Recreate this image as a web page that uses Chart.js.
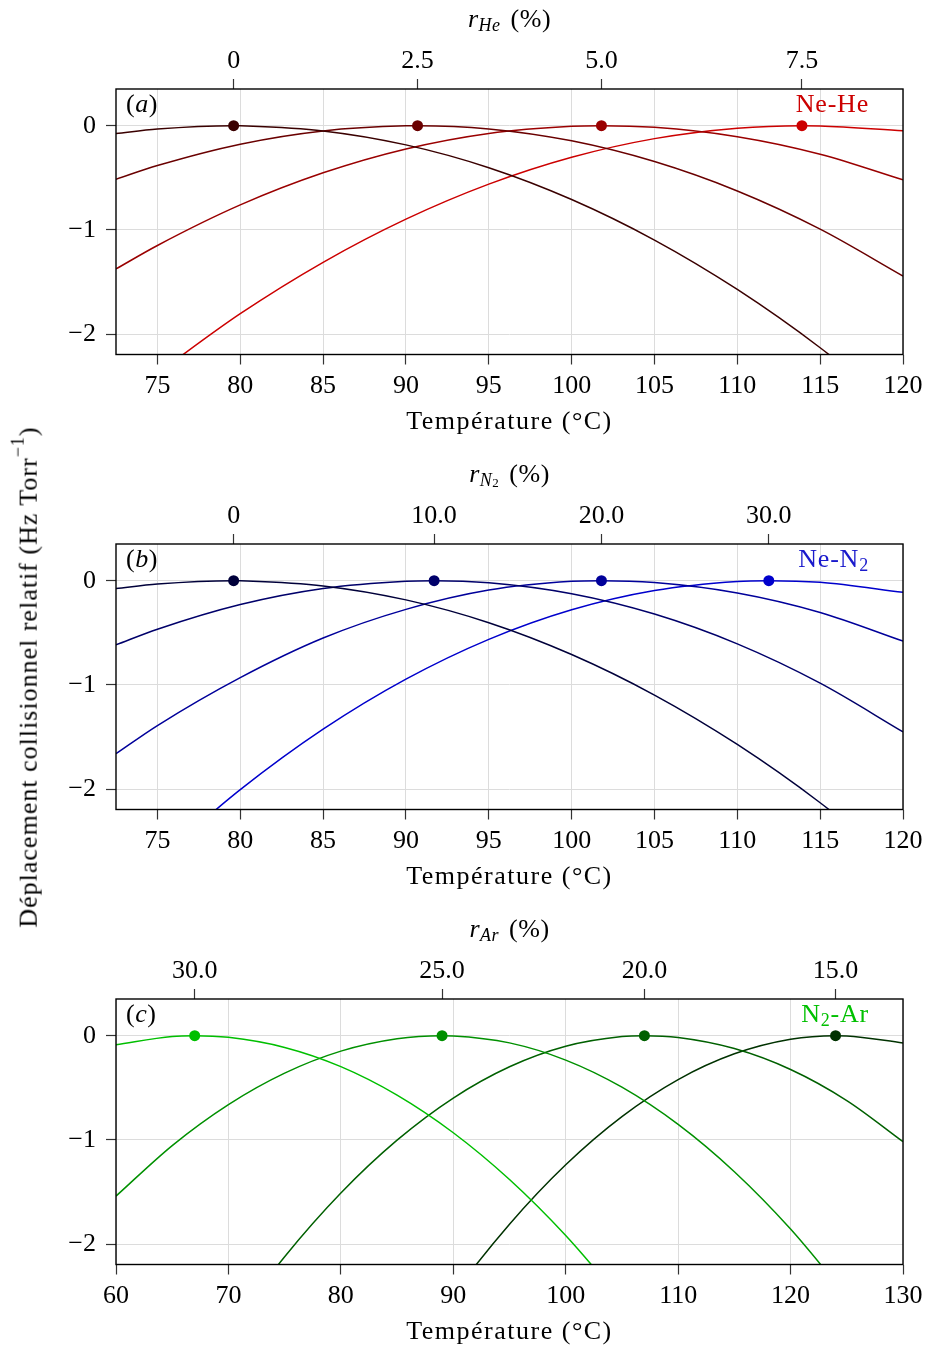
<!DOCTYPE html>
<html lang="fr">
<head>
<meta charset="utf-8">
<title>Déplacement collisionnel relatif</title>
<script src="https://cdn.jsdelivr.net/npm/chart.js@4.4.1/dist/chart.umd.min.js"></script>
<style>
  html, body { margin: 0; padding: 0; background: #fff; overflow: hidden; }
  #wrap { position: relative; width: 925px; height: 1348px; }
  .panel { position: absolute; left: 0; width: 925px; height: 438px; }
  #yTitle {
    position: absolute; left: 27px; top: 677px;
    transform: translate(-50%, -50%) rotate(-90deg);
    white-space: nowrap; font: 26px 'Liberation Serif', serif; color: #000;
    letter-spacing: 1px;
  }
  #yTitle sup { font-size: 18px; position: relative; top: -3px; }
</style>
</head>
<body>
<div id="wrap">
  <div class="panel" style="top:0"><canvas id="chartA" width="925" height="438"></canvas></div>
  <div class="panel" style="top:455px"><canvas id="chartB" width="925" height="438"></canvas></div>
  <div class="panel" style="top:910px"><canvas id="chartC" width="925" height="438"></canvas></div>
  <div id="yTitle">Déplacement collisionnel relatif (Hz Torr<sup>−1</sup>)</div>
</div>
<script>
// temperatures (°C) where the curves were read
const tempsAB = [72.5, 75, 80, 85, 90, 95, 100, 105, 110, 115, 120];
const tempsC = [60, 65, 70, 75, 80, 85, 90, 95, 100, 105, 110, 115, 120, 125, 130];

// (a) Ne-He
const neHe0 = [-0.076, -0.032, -0.001, -0.050, -0.184, -0.403, -0.708, -1.097, -1.571, -2.130, -2.775];
const neHe25 = [-0.513, -0.382, -0.177, -0.050, -0.001, -0.031, -0.145, -0.344, -0.626, -0.992, -1.442];
const neHe50 = [-1.374, -1.149, -0.760, -0.452, -0.223, -0.074, -0.005, -0.016, -0.106, -0.274, -0.520];
const neHe75 = [null, -2.376, -1.804, -1.311, -0.897, -0.561, -0.303, -0.124, -0.024, -0.002, -0.048];
const neHePeakT = [79.6, 90.7, 101.8, 113.9];
const neHeLabels = ['0', '2.5', '5.0', '7.5'];

// (b) Ne-N2
const neN0 = [-0.076, -0.032, -0.001, -0.050, -0.184, -0.403, -0.708, -1.097, -1.571, -2.130, -2.775];
const neN10 = [-0.616, -0.466, -0.229, -0.075, -0.005, -0.020, -0.125, -0.320, -0.606, -0.983, -1.450];
const neN20 = [-1.660, -1.390, -0.930, -0.550, -0.275, -0.090, -0.006, -0.018, -0.118, -0.305, -0.580];
const neN30 = [null, -2.680, -2.005, -1.425, -0.945, -0.563, -0.279, -0.094, -0.007, -0.016, -0.112];
const neNPeakT = [79.6, 91.7, 101.8, 111.9];
const neNLabels = ['0', '10.0', '20.0', '30.0'];

// (c) N2-Ar
const nAr30 = [-0.086, -0.007, -0.016, -0.113, -0.297, -0.570, -0.931, -1.380, -1.917, -2.541, null, null, null, null, null];
const nAr25 = [-1.539, -1.054, -0.661, -0.359, -0.148, -0.029, -0.002, -0.069, -0.234, -0.494, -0.851, -1.305, -1.855, -2.501, null];
const nAr20 = [null, null, -2.834, -2.120, -1.509, -1.002, -0.598, -0.298, -0.101, -0.008, -0.017, -0.123, -0.324, -0.622, -1.016];
const nAr15 = [null, null, null, null, null, -3.270, -2.485, -1.808, -1.238, -0.776, -0.421, -0.174, -0.034, -0.002, -0.070];
const nArPeakT = [67.0, 89.0, 107.0, 124.0];
const nArLabels = ['30.0', '25.0', '20.0', '15.0'];

const ticksAB = [75, 80, 85, 90, 95, 100, 105, 110, 115, 120];
const ticksC = [60, 70, 80, 90, 100, 110, 120, 130];
const yTicks = [-2, -1, 0];

const redShades = ['#3a0000', '#6a0000', '#9a0000', '#cc0000'];
const blueShades = ['#00003a', '#00006a', '#00009a', '#0000cc'];
const greenShades = ['#00bf00', '#009000', '#006000', '#003200'];

const FONT = "'Liberation Serif', 'DejaVu Serif', serif";
const FS = 26;
const SUB = 18;
Chart.defaults.font.family = FONT;
Chart.defaults.font.size = FS;
Chart.defaults.color = '#000';

function curve(temps, vals, peak) {
  const pts = temps.map((t, i) => ({x: t, y: vals[i]}));
  pts.push({x: peak, y: 0});
  pts.sort((p, q) => p.x - q.x);
  return pts;
}

// draw a row of text pieces (italic / subscript) starting from x or centred on it
function drawParts(ctx, parts, x, y, align, spacing) {
  ctx.letterSpacing = (spacing || 0) + 'px';
  let total = 0;
  parts.forEach(p => {
    ctx.font = (p.italic ? 'italic ' : '') + p.size + 'px ' + FONT;
    p.w = ctx.measureText(p.text).width + (p.gap || 0);
    total += p.w;
  });
  let cx = align === 'center' ? x - total / 2 : align === 'right' ? x - total : x;
  ctx.textBaseline = 'middle';
  ctx.textAlign = 'left';
  parts.forEach(p => {
    ctx.font = (p.italic ? 'italic ' : '') + p.size + 'px ' + FONT;
    ctx.fillText(p.text, cx, y + (p.dy || 0));
    cx += p.w;
  });
  ctx.letterSpacing = '0px';
}

function decor(cfg) {
  return {
    id: 'decor',
    afterDraw(chart) {
      const {ctx, chartArea: a} = chart;
      const mid = (a.left + a.right) / 2;
      ctx.save();
      ctx.strokeStyle = '#000';
      ctx.lineWidth = 1.4;
      ctx.strokeRect(a.left, a.top, a.right - a.left, a.bottom - a.top);
      ctx.fillStyle = '#000';
      drawParts(ctx, cfg.topTitle, mid, 20, 'center', 0.5);
      drawParts(ctx, [{text: 'Température (°C)', size: FS}], mid, a.bottom + 68, 'center', 1.5);
      drawParts(ctx, [
        {text: '(', size: FS},
        {text: cfg.letter, size: FS, italic: true},
        {text: ')', size: FS}
      ], a.left + 10, a.top + 16, 'left', 0.5);
      ctx.fillStyle = cfg.labelColor;
      drawParts(ctx, cfg.label, a.right - 34, a.top + 16, 'right', 0.8);
      ctx.restore();
    }
  };
}

function makePanel(id, cfg) {
  const lines = cfg.series.map((vals, i) => ({
    data: curve(cfg.temps, vals, cfg.peaks[i]),
    borderColor: cfg.colors[i],
    borderWidth: 1.5,
    pointRadius: 0,
    cubicInterpolationMode: 'monotone',
    clip: 0,
    order: 1
  }));
  const dots = {
    type: 'scatter',
    data: cfg.peaks.map(t => ({x: t, y: 0})),
    pointRadius: 5.5,
    pointBorderWidth: 0,
    pointBackgroundColor: cfg.colors,
    showLine: false,
    order: 0
  };
  const noPad = s => { s.paddingLeft = 0; s.paddingRight = 0; };
  new Chart(document.getElementById(id), {
    type: 'line',
    data: {datasets: [dots].concat(lines)},
    options: {
      responsive: false,
      animation: false,
      layout: {padding: {left: 0, right: 22, top: 0, bottom: 0}},
      plugins: {legend: {display: false}, tooltip: {enabled: false}},
      scales: {
        x: {
          type: 'linear', position: 'bottom',
          min: cfg.xmin, max: cfg.xmax,
          afterBuildTicks: s => { s.ticks = cfg.xTicks.map(v => ({value: v})); },
          afterFit: s => { s.height = 83.5; noPad(s); },
          ticks: {padding: 6, maxRotation: 0, callback: v => String(v)},
          grid: {color: '#dcdcdc', lineWidth: 1, tickLength: 10, tickColor: '#333', tickWidth: 1.2},
          border: {display: false}
        },
        xTop: {
          type: 'linear', position: 'top',
          min: cfg.xmin, max: cfg.xmax,
          afterBuildTicks: s => { s.ticks = cfg.peaks.map(v => ({value: v})); },
          afterFit: s => { s.height = 89; noPad(s); },
          ticks: {padding: 2, maxRotation: 0, callback: (v, i) => cfg.topLabels[i]},
          grid: {drawOnChartArea: false, tickLength: 10, color: '#333', tickWidth: 1.2},
          border: {display: false}
        },
        y: {
          type: 'linear', position: 'left',
          min: -2.195, max: 0.352,
          afterBuildTicks: s => { s.ticks = yTicks.map(v => ({value: v})); },
          afterFit: s => { s.width = 116; },
          ticks: {padding: 10, callback: v => v === 0 ? '0' : '\u2212' + Math.abs(v)},
          grid: {color: '#dcdcdc', lineWidth: 1, tickLength: 10, tickColor: '#333', tickWidth: 1.2},
          border: {display: false}
        }
      }
    },
    plugins: [decor(cfg)]
  });
}

makePanel('chartA', {
  temps: tempsAB, series: [neHe0, neHe25, neHe50, neHe75], peaks: neHePeakT,
  topLabels: neHeLabels, colors: redShades, xmin: 72.5, xmax: 120, xTicks: ticksAB,
  letter: 'a', labelColor: '#cc0000',
  label: [{text: 'Ne-He', size: FS}],
  topTitle: [{text: 'r', size: FS, italic: true}, {text: 'He', size: SUB, italic: true, dy: 6, gap: 10}, {text: '(%)', size: FS}]
});
makePanel('chartB', {
  temps: tempsAB, series: [neN0, neN10, neN20, neN30], peaks: neNPeakT,
  topLabels: neNLabels, colors: blueShades, xmin: 72.5, xmax: 120, xTicks: ticksAB,
  letter: 'b', labelColor: '#1a1acc',
  label: [{text: 'Ne-N', size: FS}, {text: '2', size: SUB, dy: 6}],
  topTitle: [{text: 'r', size: FS, italic: true}, {text: 'N', size: SUB, italic: true, dy: 6}, {text: '2', size: 13, dy: 9, gap: 10}, {text: '(%)', size: FS}]
});
makePanel('chartC', {
  temps: tempsC, series: [nAr30, nAr25, nAr20, nAr15], peaks: nArPeakT,
  topLabels: nArLabels, colors: greenShades, xmin: 60, xmax: 130, xTicks: ticksC,
  letter: 'c', labelColor: '#00c000',
  label: [{text: 'N', size: FS}, {text: '2', size: SUB, dy: 6}, {text: '-Ar', size: FS}],
  topTitle: [{text: 'r', size: FS, italic: true}, {text: 'Ar', size: SUB, italic: true, dy: 6, gap: 10}, {text: '(%)', size: FS}]
});
</script>
</body>
</html>
